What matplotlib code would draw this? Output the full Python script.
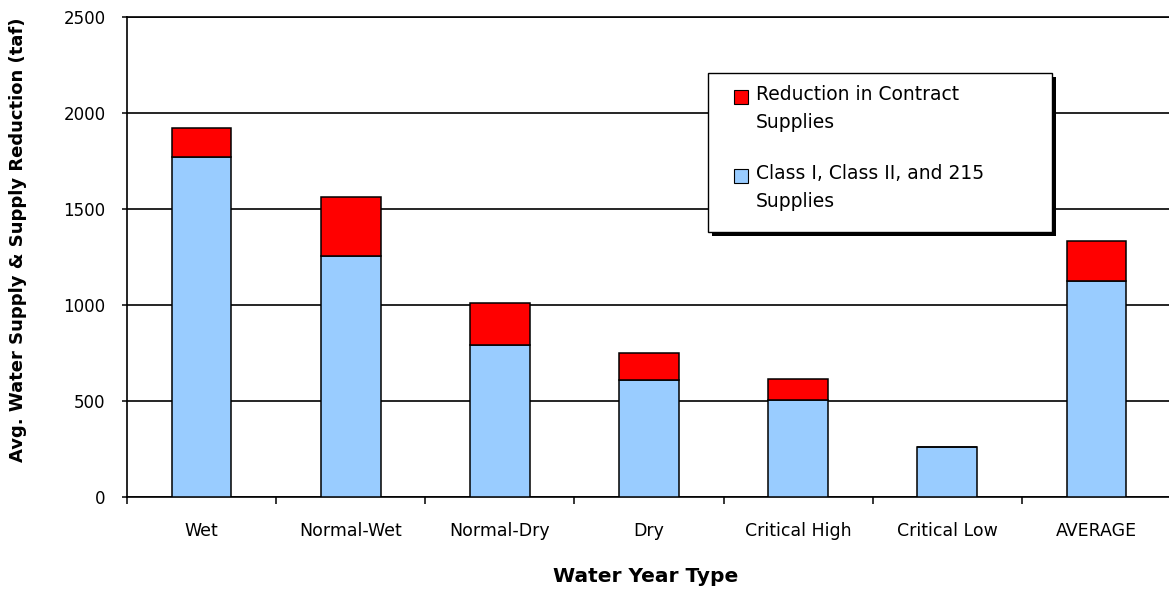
# Stacked bars: contract supplies and reduction by water year type
import matplotlib.pyplot as plt
from matplotlib.patches import Rectangle

plt.rcParams['font.family'] = 'DejaVu Sans'

# data (taf)
year_types = ['Wet', 'Normal-Wet', 'Normal-Dry', 'Dry', 'Critical High', 'Critical Low', 'AVERAGE']
class_supplies = [1770, 1257, 790, 611, 505, 258, 1123]
reduction = [150, 305, 220, 141, 111, 0, 210]

RED = '#ff0000'
BLUE = '#99ccff'

fig = plt.figure(figsize=(11.69, 5.9), dpi=100)
W, H = 1169, 590
# axes spans pixel columns 127..1171 and rows 17..497
ax = fig.add_axes([127 / W, (H - 497) / H, (1171 - 127) / W, 480 / H])

x = list(range(len(year_types)))
ax.bar(x, class_supplies, width=0.4, color=BLUE, edgecolor='black', linewidth=1.1, zorder=3)
ax.bar(x, reduction, width=0.4, bottom=class_supplies, color=RED, edgecolor='black',
       linewidth=1.1, zorder=3)

ax.set_xlim(-0.5, len(year_types) - 0.5)
ax.set_ylim(0, 2500)
ax.set_yticks([0, 500, 1000, 1500, 2000, 2500])
ax.yaxis.grid(True, color='black', linewidth=1.2, zorder=0)
ax.set_axisbelow(True)

# ticks between categories, labels under the bars
ax.set_xticks([i - 0.5 for i in x])
ax.set_xticklabels([])
ax.set_xticks(x, minor=True)
ax.set_xticklabels(year_types, minor=True, fontsize=12.5)
ax.tick_params(axis='x', which='major', direction='out', length=5, width=1.1)
ax.tick_params(axis='x', which='minor', length=0, pad=18)
ax.tick_params(axis='y', direction='out', length=3.5, width=1.1, pad=12, labelsize=12)

for side in ['left', 'bottom', 'top']:
    ax.spines[side].set_linewidth(1.2)
ax.spines['right'].set_visible(False)

fig.text(18 / W, 1 - 240 / H, 'Avg. Water Supply & Supply Reduction (taf)', rotation=90,
         ha='center', va='center', fontsize=13, fontweight='bold')
fig.text(646 / W, 1 - 577 / H, 'Water Year Type', ha='center', va='center',
         fontsize=14.5, fontweight='bold')

# legend box with drop shadow
def fig_rect(x0, y0, x1, y1, **kw):
    return Rectangle((x0 / W, 1 - y1 / H), (x1 - x0) / W, (y1 - y0) / H,
                     transform=fig.transFigure, **kw)

fig.patches.append(fig_rect(712, 77, 1056, 236, facecolor='black', edgecolor='none', zorder=5))
fig.patches.append(fig_rect(708, 73, 1052, 232, facecolor='white', edgecolor='black',
                            linewidth=1.0, zorder=6))

legend_items = [(RED, 'Reduction in Contract\nSupplies', 90),
                (BLUE, 'Class I, Class II, and 215\nSupplies', 169)]
for color, label, top in legend_items:
    fig.patches.append(fig_rect(734, top, 748, top + 14, facecolor=color, edgecolor='black',
                                linewidth=0.8, zorder=7))
    fig.text(756 / W, 1 - (top - 5) / H, label, ha='left', va='top', fontsize=13.5,
             linespacing=1.6, zorder=8)

fig.savefig('out.png', dpi=100)
